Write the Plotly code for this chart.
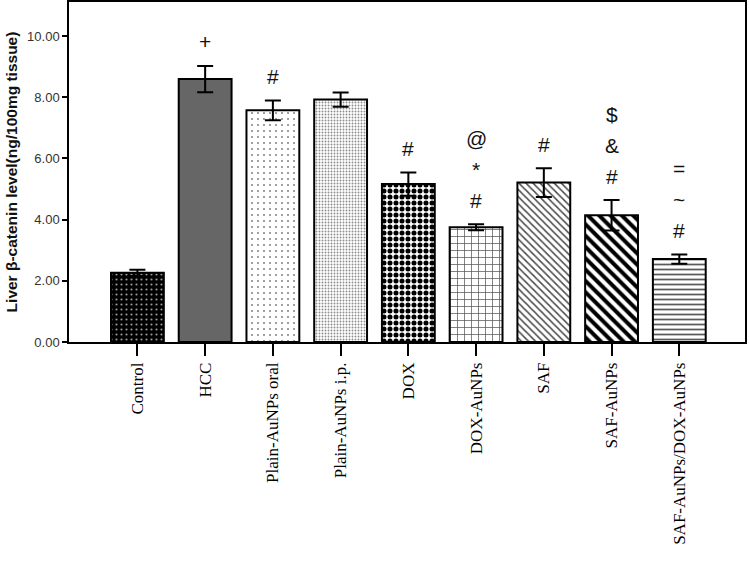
import plotly.graph_objects as go

categories = ["Control", "HCC", "Plain-AuNPs oral", "Plain-AuNPs i.p.", "DOX",
              "DOX-AuNPs", "SAF", "SAF-AuNPs", "SAF-AuNPs/DOX-AuNPs"]
values = [2.26, 8.59, 7.57, 7.92, 5.16, 3.75, 5.21, 4.14, 2.71]
errors = [0.10, 0.43, 0.32, 0.23, 0.38, 0.10, 0.47, 0.50, 0.15]
# significance marks, listed from bottom to top
marks = [[], ["+"], ["#"], [], ["#"], ["#", "*", "@"], ["#"], ["#", "&", "$"], ["#", "~", "="]]

# pattern styles per bar
pat_shape = [".", "", ".", ".", ".", "+", "\\", "\\", "-"]
pat_bg = ["#000000", "#666666", "#ffffff", "#ffffff", "#ffffff", "#ffffff", "#ffffff", "#ffffff", "#ffffff"]
pat_fg = ["#9a9a9a", "#666666", "#8a8a8a", "#8c8c8c", "#000000", "#555555", "#4a4a4a", "#000000", "#5a5a5a"]
pat_size = [5, 8, 6, 3, 6, 7, 5, 8, 5]
pat_sol = [0.15, 0.3, 0.1, 0.3, 0.55, 0.2, 0.3, 0.5, 0.35]

fig = go.Figure()
for i, cat in enumerate(categories):
    pattern = dict(shape=pat_shape[i], bgcolor=pat_bg[i], fgcolor=pat_fg[i],
                   size=pat_size[i], solidity=pat_sol[i], fillmode="overlay",
                   fgopacity=1)
    fig.add_trace(go.Bar(
        x=[cat], y=[values[i]], width=0.78,
        marker=dict(color=pat_bg[i], line=dict(color="black", width=2), pattern=pattern),
        error_y=dict(type="data", array=[errors[i]], visible=True, color="black",
                     thickness=2, width=8),
        showlegend=False,
    ))

annotations = []
for cat, v, e, mk in zip(categories, values, errors, marks):
    for i, m in enumerate(mk):
        annotations.append(dict(
            x=cat, y=v + e, text=m, showarrow=False, xanchor="center", yanchor="middle",
            yshift=24 + 31 * i,
            font=dict(family="Liberation Sans, Arial", size=21, color="#111111"),
        ))

fig.update_layout(
    width=749, height=561,
    margin=dict(l=69, r=4, t=0, b=219),
    paper_bgcolor="white", plot_bgcolor="white",
    barmode="overlay",
    annotations=annotations,
    xaxis=dict(
        categoryorder="array", categoryarray=categories,
        range=[-1.01, 8.97], showgrid=False, tickangle=-90,
        ticks="outside", ticklen=12, tickcolor="black", tickwidth=1.5,
        showline=True, linecolor="black", linewidth=1.5, mirror=True,
        tickfont=dict(family="Liberation Serif, Times New Roman", size=17, color="#000000"),
    ),
    yaxis=dict(
        range=[0, 11.11], showgrid=False, zeroline=False,
        tickvals=[0, 2, 4, 6, 8, 10], ticktext=["0.00", "2.00", "4.00", "6.00", "8.00", "10.00"],
        ticks="outside", ticklen=5, tickcolor="black", tickwidth=1.5,
        showline=True, linecolor="black", linewidth=1.5, mirror=True,
        tickfont=dict(family="Liberation Sans, Arial", size=13, color="#333333"),
        title=dict(text="<b>Liver β-catenin level(ng/100mg tissue)</b>",
                   font=dict(family="Liberation Sans, Arial", size=15.5, color="#111111"),
                   standoff=6),
    ),
)

fig.write_html("out.html")
